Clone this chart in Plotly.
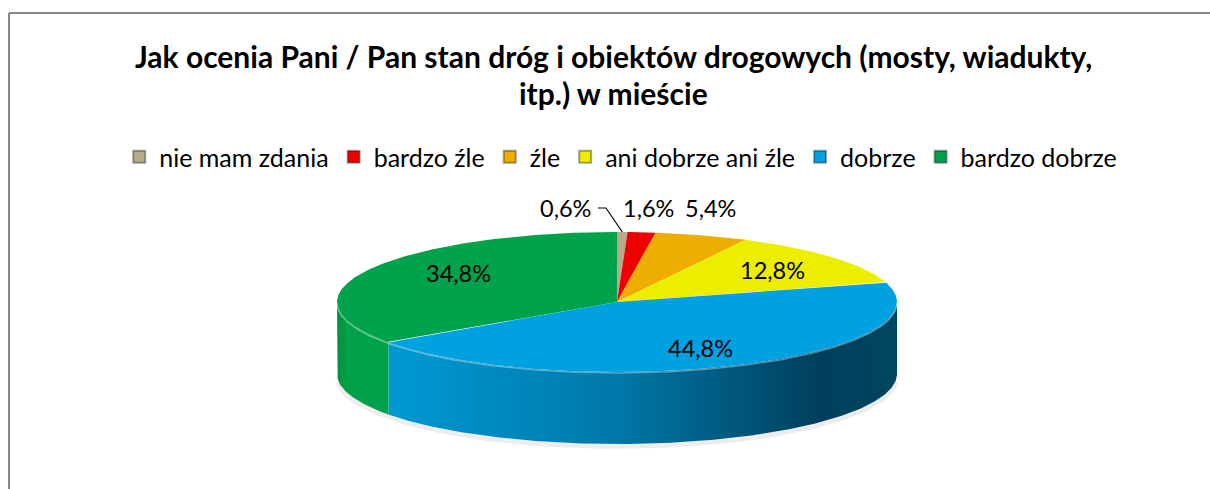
import numpy as np
import plotly.graph_objects as go

# ---------------- data ----------------
categories = ["nie mam zdania", "bardzo źle", "źle", "ani dobrze ani źle", "dobrze", "bardzo dobrze"]
values = [0.6, 1.6, 5.4, 12.8, 44.8, 34.8]
colors = ["#B6AC8C", "#EC0000", "#EDAE00", "#EDED00", "#00A1E0", "#00A24B"]
title_lines = ["Jak ocenia Pani / Pan stan dróg i obiektów drogowych (mosty, wiadukty,", "itp.) w mieście"]

# ---------------- layout / style (not data) ----------------
W, H = 1210, 489
CX, CY, RX, RY, DEPTH = 617, 302, 280, 70, 72
side_scales = {
    "dobrze": [[0, "#0099D4"], [0.45, "#0078A8"], [0.85, "#003F5C"], [1, "#00465F"]],
    "bardzo dobrze": [[0, "#008F42"], [0.2, "#00A049"], [1, "#00A24B"]],
}
label_pos = [(565, 208), (648, 208), (710, 208), (772, 270), (700, 348), (458, 273)]
FONT = "Lato, 'Open Sans', sans-serif"


def pt(theta_deg, dy=0.0):
    t = np.radians(theta_deg)
    return CX + RX * np.sin(t), CY - RY * np.cos(t) + dy


def arc(a, b, dy=0.0, n=None):
    n = n or max(2, int(abs(b - a) * 2) + 2)
    th = np.linspace(a, b, n)
    x, y = pt(th, dy)
    return list(x), list(y)


total = sum(values)
cum = np.concatenate([[0.0], np.cumsum(values)]) / total * 360.0

fig = go.Figure()

# soft shadow under the pie
sx, sy = arc(95, 265, DEPTH + 2)
fig.add_trace(go.Scatter(x=sx, y=sy, mode="lines", line=dict(color="rgba(0,0,0,0.07)", width=6),
                         hoverinfo="skip", showlegend=False))

# side (rim) faces of the front half
for i, cat in enumerate(categories):
    a, b = max(cum[i], 90.0), min(cum[i + 1], 270.0)
    if b <= a:
        continue
    tx, ty = arc(a, b)
    bx, by = arc(b, a, DEPTH)
    kw = {}
    if cat in side_scales:
        kw["fillgradient"] = dict(type="horizontal", colorscale=side_scales[cat])
    fig.add_trace(go.Scatter(x=tx + bx + [tx[0]], y=ty + by + [ty[0]], fill="toself",
                             fillcolor=colors[i], mode="lines", line=dict(width=0),
                             hoverinfo="skip", showlegend=False, **kw))

# top faces
for i, cat in enumerate(categories):
    ax_, ay_ = arc(cum[i], cum[i + 1])
    fig.add_trace(go.Scatter(x=[CX] + ax_ + [CX], y=[CY] + ay_ + [CY], fill="toself",
                             fillcolor=colors[i], mode="lines", line=dict(width=0),
                             hoverinfo="skip", showlegend=False))

# light rim highlight along the front edge
for i, cat in enumerate(categories):
    a, b = max(cum[i], 90.0), min(cum[i + 1], 270.0)
    if b <= a:
        continue
    hx, hy = arc(a, b, 1.0)
    fig.add_trace(go.Scatter(x=hx, y=hy, mode="lines",
                             line=dict(color="rgba(255,255,255,0.35)", width=1.5),
                             hoverinfo="skip", showlegend=False))

# legend entries
for i, cat in enumerate(categories):
    fig.add_trace(go.Scatter(x=[None], y=[None], mode="markers", name=cat,
                             marker=dict(symbol="square", size=13, color=colors[i],
                                         line=dict(color="rgba(0,0,0,0.35)", width=1))))

# leader line for the smallest slice
mid0 = (cum[0] + cum[1]) / 2
ex, ey = pt(mid0)
fig.add_trace(go.Scatter(x=[label_pos[0][0] + 33, label_pos[0][0] + 41, ex], y=[label_pos[0][1], label_pos[0][1], ey],
                         mode="lines", line=dict(color="black", width=1.2), hoverinfo="skip", showlegend=False))

annotations = []
for i, v in enumerate(values):
    txt = f"{v:.1f}%".replace(".", ",")
    annotations.append(dict(x=label_pos[i][0], y=label_pos[i][1], xref="x", yref="y", text=txt,
                            showarrow=False, font=dict(family=FONT, size=23.5, color="black")))
for j, line in enumerate(title_lines):
    annotations.append(dict(x=613, y=56 + 37 * j, xref="x", yref="y", text=f"<b>{line}</b>",
                            showarrow=False, font=dict(family=FONT, size=30, color="black")))

border = dict(color="#878787", width=2)
fig.update_layout(
    width=W, height=H, margin=dict(l=0, r=0, t=0, b=0),
    paper_bgcolor="white", plot_bgcolor="white",
    xaxis=dict(range=[0, W], visible=False, fixedrange=True),
    yaxis=dict(range=[H, 0], visible=False, fixedrange=True),
    annotations=annotations,
    showlegend=True,
    legend=dict(orientation="h", x=0.513, xanchor="center", y=1 - 157 / H, yanchor="middle",
                font=dict(family=FONT, size=25, color="black"), itemsizing="constant",
                bgcolor="rgba(0,0,0,0)"),
    shapes=[
        dict(type="line", xref="x", yref="y", x0=9, y0=13, x1=9, y1=H, line=border),
        dict(type="line", xref="x", yref="y", x0=9, y0=13, x1=W, y1=13, line=border),
    ],
)

fig.write_html("out.html", config={"displayModeBar": False},
               post_script="document.documentElement.style.margin='0px';document.documentElement.style.overflow='hidden';"
                           "document.body.style.margin='0px';document.body.style.overflow='hidden';")
